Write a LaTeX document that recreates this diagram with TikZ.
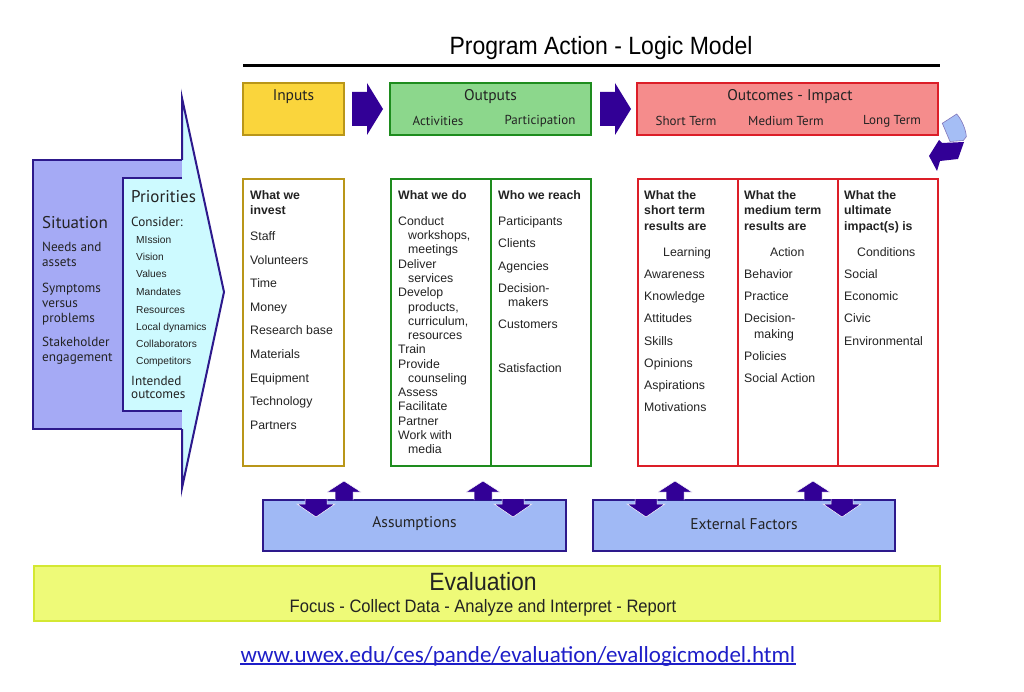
\documentclass[tikz,border=0pt]{standalone}
\usepackage{fontspec}
\setmainfont{Liberation Sans}
\newfontfamily\lab{PT Sans}
\newfontfamily\calib{Carlito}
\newfontfamily\narrow[FakeStretch=0.92]{Liberation Sans}
\definecolor{purp}{RGB}{50,0,150}
\definecolor{edge}{RGB}{45,25,140}
\definecolor{sitblue}{RGB}{165,170,245}
\definecolor{pricyan}{RGB}{205,250,255}
\definecolor{inyel}{RGB}{250,213,60}
\definecolor{inedge}{RGB}{185,150,25}
\definecolor{outgrn}{RGB}{140,215,140}
\definecolor{outedge}{RGB}{30,140,30}
\definecolor{ocpink}{RGB}{245,140,140}
\definecolor{ocedge}{RGB}{220,30,40}
\definecolor{asblue}{RGB}{160,185,245}
\definecolor{evfill}{RGB}{238,250,120}
\definecolor{evedge}{RGB}{212,232,50}
\definecolor{txt}{RGB}{35,35,35}
\definecolor{urlblue}{RGB}{30,30,200}
\definecolor{curl}{RGB}{165,190,245}
\tikzset{
  hdr/.style={line width=2pt},
  col/.style={line width=2pt, fill=white},
  body/.style={anchor=base west, inner sep=0pt, text=txt, font=\fontsize{12.3}{14}\selectfont},
  bodyb/.style={body, font=\fontsize{12.3}{14}\selectfont\bfseries},
  labf/.style={inner sep=0pt, text=txt, font=\lab\fontsize{15.5}{18}\selectfont},
  subf/.style={inner sep=0pt, text=txt, font=\lab\fontsize{13}{15}\selectfont},
  pri/.style={anchor=base west, inner sep=0pt, text=txt, font=\fontsize{10.2}{12}\selectfont},
  sit/.style={anchor=base west, inner sep=0pt, text=txt, font=\lab\fontsize{13.2}{15}\selectfont},
  bigarrow/.style={fill=purp, draw=none},
  uparr/.style={fill=purp, draw=white, line width=0.5pt},
}
\begin{document}
\begin{tikzpicture}[x=1pt,y=-1pt]
\useasboundingbox (0,0) rectangle (1024,692);
\fill[white] (0,0) rectangle (1024,692);

% Title
\node[inner sep=0pt, font=\narrow\fontsize{25}{28}\selectfont, text=black] (title) at (601,48) {Program Action - Logic Model};
\draw[line width=3pt] (243,66) coordinate (tl) -- (940,66) coordinate (tr);

% Situation / Priorities arrow
\fill[sitblue] (33,160) rectangle (182,429);
\fill[pricyan] (123,178) -- (182,178) -- (182,98) -- (224,292) -- (182,488) -- (182,411) -- (123,411) -- cycle;
\draw[edge, line width=2pt, line join=miter]
  (182,160) -- (33,160) -- (33,429) -- (182,429);
\draw[edge, line width=2pt, line join=miter]
  (182,160) -- (182,98) -- (224,292) -- (182,488) -- (182,429);
\draw[edge, line width=2pt, line join=miter]
  (182,178) -- (123,178) -- (123,411) -- (182,411);

\node[sit, font=\lab\fontsize{17}{20}\selectfont] (situation) at (42,229) {Situation};
\node[sit] (s1) at (42,252) {Needs and};
\node[sit] (s2) at (42,267) {assets};
\node[sit] (s3) at (42,292) {Symptoms};
\node[sit] (s4) at (42,307) {versus};
\node[sit] (s5) at (42,322) {problems};
\node[sit] (s6) at (42,346) {Stakeholder};
\node[sit] (s7) at (42,361) {engagement};

\node[sit, font=\lab\fontsize{17}{20}\selectfont] (priorities) at (131,203) {Priorities};
\node[sit] (consider) at (131,227) {Consider:};
\foreach \yy/\t [count=\i] in {244/MIssion, 261/Vision, 278/Values, 295/Mandates, 313/Resources, 330/Local dynamics, 347/Collaborators, 364/Competitors}
  \node[pri, name=p\i] at (136,\yy) {\t};
\node[sit] (int1) at (131,385) {Intended};
\node[sit] (int2) at (131,398) {outcomes};

% Header boxes
\draw[hdr, draw=inedge, fill=inyel] (243,83) rectangle (344,135);
\node[labf] (inputs) at (293.5,97) {Inputs};

\fill[purp] (352,92) -- (367,92) -- (367,83) -- (383,109) -- (367,135) -- (367,126) -- (352,126) -- cycle;

\draw[hdr, draw=outedge, fill=outgrn] (390,83) rectangle (591,135);
\node[labf] (outputs) at (490.5,97) {Outputs};
\node[subf] (act) at (438,121) {Activities};
\node[subf] (part) at (540,121) {Participation};

\fill[purp] (600,92) -- (615,92) -- (615,83) -- (631,109) -- (615,135) -- (615,126) -- (600,126) -- cycle;

\draw[hdr, draw=ocedge, fill=ocpink] (637,83) rectangle (938,135);
\node[labf] (outcomes) at (790,97) {Outcomes - Impact};
\node[subf] (st) at (686,121) {Short Term};
\node[subf] (mt) at (786,121) {Medium Term};
\node[subf] (lt) at (892,121) {Long Term};

% curl arrow
\draw[fill=curl, draw=edge!60, line width=0.6pt] (942.3,123.3) -- (956.7,114) .. controls (962,120) and (966,130) .. (966.3,136.7) -- (963.3,140.5) -- (950,141.5) -- cycle;
\fill[purp] (929,156) -- (939,140) -- (942,143) -- (964,142) -- (958,159) -- (940,161) -- (937,171) -- cycle;

% Columns
\draw[col, draw=inedge] (243,179) rectangle (344,466);
\node[bodyb] (inv1) at (250,199.5) {What we};
\node[bodyb] (inv2) at (250,214.5) {invest};
\foreach \t [count=\i] in {Staff, Volunteers, Time, Money, Research base, Materials, Equipment, Technology, Partners}
  \node[body, name=in\i] at (250,{240.5+(\i-1)*23.6}) {\t};

\draw[col, draw=outedge] (391,179) rectangle (591,466);
\draw[line width=2pt, outedge] (491,179) -- (491,466);
\node[bodyb] (wwd) at (398,199.5) {What we do};
\foreach \t/\xx [count=\i] in {Conduct/398, {workshops,}/408, meetings/408, Deliver/398, services/408, Develop/398, {products,}/408, {curriculum,}/408, resources/408, Train/398, Provide/398, counseling/408, Assess/398, Facilitate/398, Partner/398, Work with/398, media/408}
  \node[body, name=do\i] at (\xx,{225.5+(\i-1)*14.25}) {\t};

\node[bodyb] (wwr) at (498,199.5) {Who we reach};
\foreach \yy/\xx/\t [count=\i] in {225.5/498/Participants, 247.5/498/Clients, 270.5/498/Agencies, 292.5/498/Decision-, 306.5/508/makers, 328.5/498/Customers, 372.5/498/Satisfaction}
  \node[body, name=re\i] at (\xx,\yy) {\t};

\draw[col, draw=ocedge] (638,179) rectangle (938,466);
\draw[line width=2pt, ocedge] (738,179) -- (738,466);
\draw[line width=2pt, ocedge] (838,179) -- (838,466);

\node[bodyb] (a1) at (644,199.5) {What the};
\node[bodyb] (a2) at (644,215) {short term};
\node[bodyb] (a3) at (644,230.5) {results are};
\node[body] (learn) at (663,256.5) {Learning};
\foreach \t [count=\i] in {Awareness, Knowledge, Attitudes, Skills, Opinions, Aspirations, Motivations}
  \node[body, name=sh\i] at (644,{278.5+(\i-1)*22.2}) {\t};

\node[bodyb] (b1) at (744,199.5) {What the};
\node[bodyb] (b2) at (744,215) {medium term};
\node[bodyb] (b3) at (744,230.5) {results are};
\node[body] (action) at (770,256.5) {Action};
\foreach \yy/\xx/\t [count=\i] in {278.5/744/Behavior, 300.5/744/Practice, 322.5/744/Decision-, 338/754/making, 360.5/744/Policies, 382.5/744/Social Action}
  \node[body, name=me\i] at (\xx,\yy) {\t};

\node[bodyb] (c1) at (844,199.5) {What the};
\node[bodyb] (c2) at (844,215) {ultimate};
\node[bodyb] (c3) at (844,230.5) {impact(s) is};
\node[body] (cond) at (857,256.5) {Conditions};
\foreach \t [count=\i] in {Social, Economic, Civic, Environmental}
  \node[body, name=lo\i] at (844,{278.5+(\i-1)*22.2}) {\t};

% Assumptions / External factors
\draw[line width=2pt, draw=edge, fill=asblue] (263,500) rectangle (566,551);
\node[labf] (assump) at (414.5,524) {Assumptions};
\draw[line width=2pt, draw=edge, fill=asblue] (593,500) rectangle (895,551);
\node[labf] (ext) at (744,524) {External Factors};

% up/down arrows
\newcommand\uparrowat[1]{\draw[uparr] (#1-9,500) -- (#1-9,492) -- (#1-17,492) -- (#1,481) -- (#1+17,492) -- (#1+9,492) -- (#1+9,500);}
\newcommand\downarrowat[1]{\draw[uparr] (#1-11,499) -- (#1-11,504) -- (#1-19,504) -- (#1,517) -- (#1+19,504) -- (#1+11,504) -- (#1+11,499);}
\downarrowat{316}
\uparrowat{344}
\uparrowat{483}
\downarrowat{513}
\downarrowat{646}
\uparrowat{675}
\uparrowat{813}
\downarrowat{842}

% Evaluation
\draw[line width=2pt, draw=evedge, fill=evfill] (34,566) rectangle (940,621);
\node[inner sep=0pt, text=txt, font=\narrow\fontsize{25}{28}\selectfont] (eval) at (483,582) {Evaluation};
\node[inner sep=0pt, text=txt, font=\narrow\fontsize{18}{20}\selectfont] (evsub) at (483,608) {Focus - Collect Data - Analyze and Interpret - Report};

% URL
\node[inner sep=0pt, text=urlblue, font=\calib\fontsize{23}{26}\selectfont] (url) at (518,656) {www.uwex.edu/ces/pande/evaluation/evallogicmodel.html};
\draw[urlblue, line width=1.2pt] ([yshift=-2pt]url.base west) -- ([yshift=-2pt]url.base east);
\end{tikzpicture}
\end{document}
